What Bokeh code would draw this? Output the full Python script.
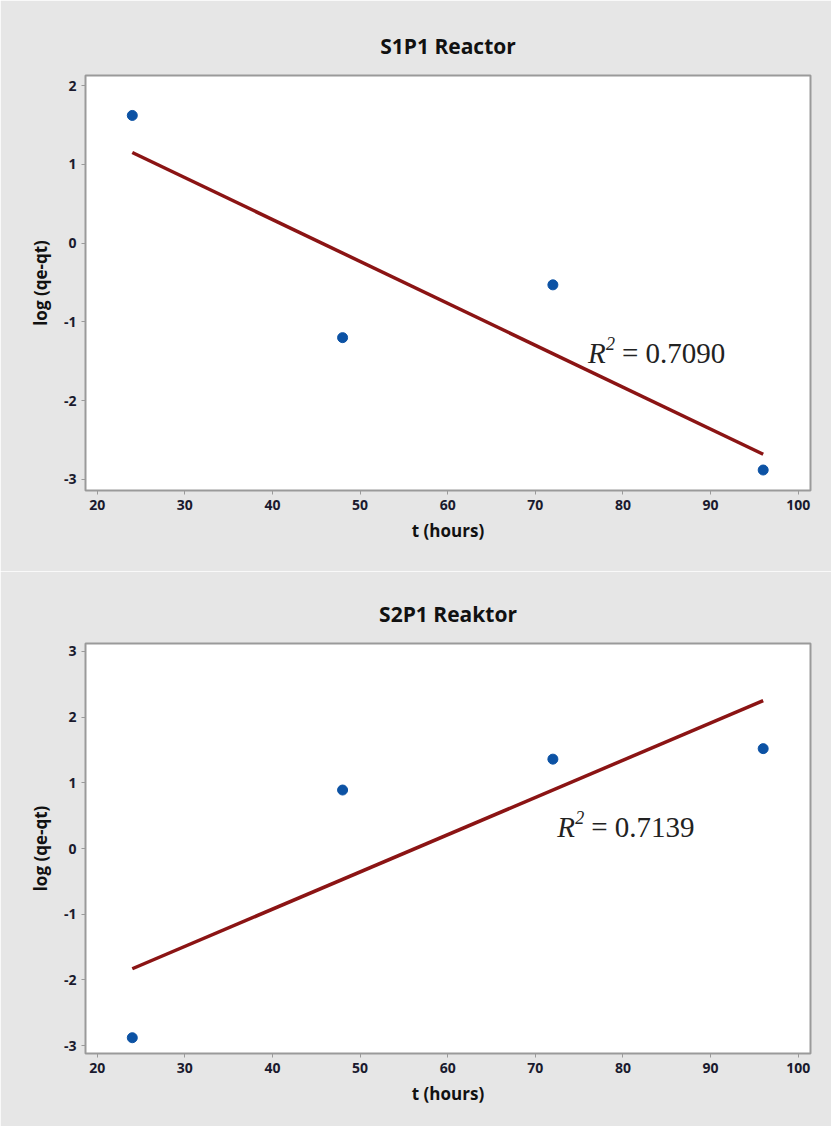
from bokeh.plotting import figure
from bokeh.layouts import column
from bokeh.models import ColumnDataSource, Range1d
from bokeh.core.properties import value
from bokeh.embed import file_html
from bokeh.resources import INLINE

# ---- data ----
t_hours = [24, 48, 72, 96]
s1p1_log = [1.62, -1.20, -0.53, -2.88]
s1p1_fit_t = [24, 96]
s1p1_fit = [1.15, -2.68]
s1p1_r2 = "0.7090"

s2p1_log = [-2.88, 0.89, 1.36, 1.52]
s2p1_fit_t = [24, 96]
s2p1_fit = [-1.83, 2.25]
s2p1_r2 = "0.7139"

x_ticks = [20, 30, 40, 50, 60, 70, 80, 90, 100]
y_ticks_top = [-3, -2, -1, 0, 1, 2]
y_ticks_bottom = [-3, -2, -1, 0, 1, 2, 3]

BG = "#e6e6e6"
PT = "#0c52a4"
LN = "#8b1414"
TXT = "#1a1a2e"
FONT = "Open Sans"
SERIF = "Liberation Serif"


def panel(title, ys, fit_t, fit, r2, yr, yticks, r2_pos, height, top_border, bottom_border):
    p = figure(width=831, height=height, output_backend="svg", toolbar_location=None,
               x_range=Range1d(18.66, 101.4), y_range=Range1d(*yr),
               min_border_left=85, min_border_right=21,
               min_border_top=top_border, min_border_bottom=bottom_border)
    p.background_fill_color = "white"
    p.border_fill_color = BG
    p.outline_line_color = "#9a9a9a"
    p.outline_line_width = 2
    p.xgrid.visible = False
    p.ygrid.visible = False

    p.title.text = title
    p.title.align = "center"
    p.title.text_font = FONT
    p.title.text_font_style = "bold"
    p.title.text_font_size = "21px"
    p.title.text_color = "#111111"
    p.title.standoff = 32

    for ax in (p.xaxis[0], p.yaxis[0]):
        ax.axis_line_color = "#9a9a9a"
        ax.axis_line_width = 1
        ax.major_tick_line_color = "#9a9a9a"
        ax.major_tick_in = 0
        ax.major_tick_out = 4
        ax.minor_tick_line_color = None
        ax.major_label_text_font = FONT
        ax.major_label_text_font_style = "bold"
        ax.major_label_text_font_size = "14px"
        ax.major_label_text_color = TXT
        ax.axis_label_text_font = FONT
        ax.axis_label_text_font_style = "bold"
        ax.axis_label_text_font_size = "17px"
        ax.axis_label_text_color = "#111111"
    p.xaxis.ticker = x_ticks
    p.yaxis.ticker = yticks
    p.xaxis.major_label_overrides = {v: str(v) for v in x_ticks}
    p.yaxis.major_label_overrides = {v: str(v) for v in yticks}
    p.xaxis.axis_label = "t (hours)"
    p.yaxis.axis_label = "log (qe-qt)"
    p.xaxis.major_label_standoff = 5
    p.xaxis.axis_label_standoff = 6
    p.yaxis.major_label_standoff = 5
    p.yaxis.axis_label_standoff = 9

    p.line(fit_t, fit, line_color=LN, line_width=3.5)
    p.scatter(t_hours, ys, size=10, marker="circle", fill_color=PT, line_color=PT)

    rx, ry = r2_pos
    src = ColumnDataSource(dict(x=[rx], y=[ry]))
    p.text(x="x", y="y", text=value("R"), source=src, text_font=value(SERIF),
           text_font_style="italic", text_font_size="29px", text_color="#222222",
           text_baseline="middle", text_align="left")
    p.text(x="x", y="y", text=value("2"), source=src, text_font=value(SERIF),
           text_font_style="italic", text_font_size="18px", text_color="#222222",
           text_baseline="middle", text_align="left", x_offset=18, y_offset=-9)
    p.text(x="x", y="y", text=value("= " + r2), source=src, text_font=value(SERIF),
           text_font_size="29px", text_color="#222222",
           text_baseline="middle", text_align="left", x_offset=34)
    return p


p1 = panel("S1P1 Reactor", s1p1_log, s1p1_fit_t, s1p1_fit, s1p1_r2,
           (-3.14, 2.127), y_ticks_top, (76.0, -1.39), 571, 75, 81)
p2 = panel("S2P1 Reaktor", s2p1_log, s2p1_fit_t, s2p1_fit, s2p1_r2,
           (-3.12, 3.12), y_ticks_bottom, (72.5, 0.33), 555, 72, 73)

layout = column(p1, p2, spacing=0)
open("out.html", "w").write(file_html(layout, INLINE))
